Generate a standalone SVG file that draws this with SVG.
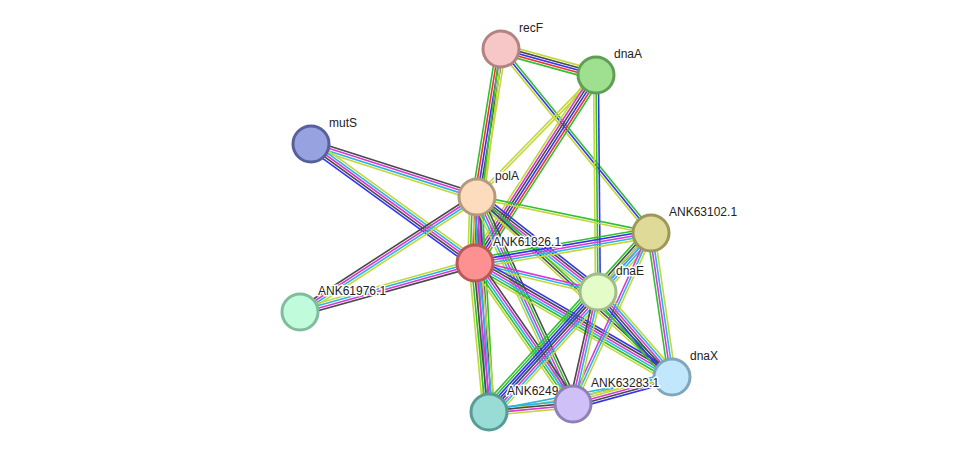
<svg xmlns="http://www.w3.org/2000/svg" width="976" height="458" viewBox="0 0 976 458">
<style>
line{stroke-width:1.6;fill:none}
.y{stroke:#c2d83a}.g{stroke:#30c030}.r{stroke:#f03434}.b{stroke:#3434f0}.k{stroke:#4a4a4a}.m{stroke:#d838d8}.c{stroke:#2cb4e0}
circle{stroke-width:3}
text{font-family:"Liberation Sans",Arial,sans-serif;font-size:12px;fill:#222;stroke:#fff;stroke-width:3;stroke-linejoin:round;paint-order:stroke}
</style>
<rect width="976" height="458" fill="#fff"/>
<g id="edges">
<g transform="translate(501,49) rotate(15.3)"><line x2="98.5" y1="-4.8" y2="-4.8" class="y"/><line x2="98.5" y1="-2.4" y2="-2.4" class="k"/><line x2="98.5" class="b"/><line x2="98.5" y1="2.4" y2="2.4" class="r"/><line x2="98.5" y1="4.8" y2="4.8" class="g"/></g>
<g transform="translate(501,49) rotate(99.2)"><line x2="150" y1="-4.8" y2="-4.8" class="y"/><line x2="150" y1="-2.4" y2="-2.4" class="k"/><line x2="150" class="b"/><line x2="150" y1="2.4" y2="2.4" class="r"/><line x2="150" y1="4.8" y2="4.8" class="g"/></g>
<g transform="translate(501,49) rotate(96.9)"><line x2="215.6" y1="-1.2" y2="-1.2" class="y"/><line x2="215.6" y1="1.2" y2="1.2" class="g"/></g>
<g transform="translate(501,49) rotate(50.8)"><line x2="237.4" y1="-2.4" y2="-2.4" class="g"/><line x2="237.4" class="b"/><line x2="237.4" y1="2.4" y2="2.4" class="y"/></g>
<g transform="translate(596,75) rotate(134.3)"><line x2="170.4" y1="-1.2" y2="-1.2" class="y"/><line x2="170.4" y1="1.2" y2="1.2" class="y"/></g>
<g transform="translate(596,75) rotate(122.8)"><line x2="223.6" y1="-6" y2="-6" class="g"/><line x2="223.6" y1="-3.6" y2="-3.6" class="r"/><line x2="223.6" y1="-1.2" y2="-1.2" class="b"/><line x2="223.6" y1="1.2" y2="1.2" class="k"/><line x2="223.6" y1="3.6" y2="3.6" class="m"/><line x2="223.6" y1="6" y2="6" class="y"/></g>
<g transform="translate(596,75) rotate(89.5)"><line x2="217" y1="-2.4" y2="-2.4" class="b"/><line x2="217" class="g"/><line x2="217" y1="2.4" y2="2.4" class="y"/></g>
<g transform="translate(311,144) rotate(17.7)"><line x2="174.3" y1="-3.6" y2="-3.6" class="k"/><line x2="174.3" y1="-1.2" y2="-1.2" class="m"/><line x2="174.3" y1="1.2" y2="1.2" class="c"/><line x2="174.3" y1="3.6" y2="3.6" class="y"/></g>
<g transform="translate(311,144) rotate(36)"><line x2="202.6" y1="-4.8" y2="-4.8" class="y"/><line x2="202.6" y1="-2.4" y2="-2.4" class="c"/><line x2="202.6" class="m"/><line x2="202.6" y1="2.4" y2="2.4" class="k"/><line x2="202.6" y1="4.8" y2="4.8" class="b"/></g>
<g transform="translate(300,312) rotate(-33)"><line x2="211.1" y1="-3.6" y2="-3.6" class="k"/><line x2="211.1" y1="-1.2" y2="-1.2" class="m"/><line x2="211.1" y1="1.2" y2="1.2" class="c"/><line x2="211.1" y1="3.6" y2="3.6" class="y"/></g>
<g transform="translate(300,312) rotate(-15.6)"><line x2="181.7" y1="-3.6" y2="-3.6" class="y"/><line x2="181.7" y1="-1.2" y2="-1.2" class="c"/><line x2="181.7" y1="1.2" y2="1.2" class="m"/><line x2="181.7" y1="3.6" y2="3.6" class="k"/></g>
<g transform="translate(477,197) rotate(91.7)"><line x2="66" y1="-7.2" y2="-7.2" class="c"/><line x2="66" y1="-4.8" y2="-4.8" class="m"/><line x2="66" y1="-2.4" y2="-2.4" class="k"/><line x2="66" class="b"/><line x2="66" y1="2.4" y2="2.4" class="r"/><line x2="66" y1="4.8" y2="4.8" class="g"/><line x2="66" y1="7.2" y2="7.2" class="y"/></g>
<g transform="translate(477,197) rotate(11.7)"><line x2="177.7" y1="-1.2" y2="-1.2" class="g"/><line x2="177.7" y1="1.2" y2="1.2" class="y"/></g>
<g transform="translate(477,197) rotate(38.1)"><line x2="153.8" y1="-4.8" y2="-4.8" class="b"/><line x2="153.8" y1="-2.4" y2="-2.4" class="k"/><line x2="153.8" class="m"/><line x2="153.8" y1="2.4" y2="2.4" class="c"/><line x2="153.8" y1="4.8" y2="4.8" class="y"/></g>
<g transform="translate(477,197) rotate(42.7)"><line x2="265.4" y1="-2.4" y2="-2.4" class="g"/><line x2="265.4" class="k"/><line x2="265.4" y1="2.4" y2="2.4" class="y"/></g>
<g transform="translate(477,197) rotate(86.8)"><line x2="215.3" y1="-4.8" y2="-4.8" class="g"/><line x2="215.3" y1="-2.4" y2="-2.4" class="k"/><line x2="215.3" class="m"/><line x2="215.3" y1="2.4" y2="2.4" class="c"/><line x2="215.3" y1="4.8" y2="4.8" class="y"/></g>
<g transform="translate(477,197) rotate(65.1)"><line x2="228.2" y1="-4.8" y2="-4.8" class="k"/><line x2="228.2" y1="-2.4" y2="-2.4" class="g"/><line x2="228.2" class="m"/><line x2="228.2" y1="2.4" y2="2.4" class="c"/><line x2="228.2" y1="4.8" y2="4.8" class="y"/></g>
<g transform="translate(475,263) rotate(-9.7)"><line x2="178.5" y1="-4.8" y2="-4.8" class="g"/><line x2="178.5" y1="-2.4" y2="-2.4" class="b"/><line x2="178.5" class="m"/><line x2="178.5" y1="2.4" y2="2.4" class="c"/><line x2="178.5" y1="4.8" y2="4.8" class="y"/></g>
<g transform="translate(475,263) rotate(13.3)"><line x2="126.4" y1="-2.4" y2="-2.4" class="m"/><line x2="126.4" class="c"/><line x2="126.4" y1="2.4" y2="2.4" class="y"/></g>
<g transform="translate(475,263) rotate(30.1)"><line x2="227.6" y1="-6" y2="-6" class="b"/><line x2="227.6" y1="-3.6" y2="-3.6" class="k"/><line x2="227.6" y1="-1.2" y2="-1.2" class="m"/><line x2="227.6" y1="1.2" y2="1.2" class="c"/><line x2="227.6" y1="3.6" y2="3.6" class="g"/><line x2="227.6" y1="6" y2="6" class="y"/></g>
<g transform="translate(475,263) rotate(84.6)"><line x2="149.7" y1="-6" y2="-6" class="y"/><line x2="149.7" y1="-3.6" y2="-3.6" class="c"/><line x2="149.7" y1="-1.2" y2="-1.2" class="m"/><line x2="149.7" y1="1.2" y2="1.2" class="k"/><line x2="149.7" y1="3.6" y2="3.6" class="g"/><line x2="149.7" y1="6" y2="6" class="y"/></g>
<g transform="translate(475,263) rotate(55.2)"><line x2="171.7" y1="-4.8" y2="-4.8" class="k"/><line x2="171.7" y1="-2.4" y2="-2.4" class="m"/><line x2="171.7" class="c"/><line x2="171.7" y1="2.4" y2="2.4" class="g"/><line x2="171.7" y1="4.8" y2="4.8" class="y"/></g>
<g transform="translate(651,233) rotate(131.9)"><line x2="79.3" y1="-6" y2="-6" class="y"/><line x2="79.3" y1="-3.6" y2="-3.6" class="c"/><line x2="79.3" y1="-1.2" y2="-1.2" class="m"/><line x2="79.3" y1="1.2" y2="1.2" class="b"/><line x2="79.3" y1="3.6" y2="3.6" class="k"/><line x2="79.3" y1="6" y2="6" class="g"/></g>
<g transform="translate(651,233) rotate(81.7)"><line x2="145.5" y1="-3.6" y2="-3.6" class="y"/><line x2="145.5" y1="-1.2" y2="-1.2" class="c"/><line x2="145.5" y1="1.2" y2="1.2" class="m"/><line x2="145.5" y1="3.6" y2="3.6" class="g"/></g>
<g transform="translate(651,233) rotate(114.5)"><line x2="187.9" y1="-2.4" y2="-2.4" class="y"/><line x2="187.9" class="c"/><line x2="187.9" y1="2.4" y2="2.4" class="m"/></g>
<g transform="translate(651,233) rotate(132.15)"><line x2="241.4" y1="-1.2" y2="-1.2" class="c"/><line x2="241.4" y1="1.2" y2="1.2" class="y"/></g>
<g transform="translate(598,292) rotate(49)"><line x2="112.7" y1="-6" y2="-6" class="y"/><line x2="112.7" y1="-3.6" y2="-3.6" class="c"/><line x2="112.7" y1="-1.2" y2="-1.2" class="m"/><line x2="112.7" y1="1.2" y2="1.2" class="k"/><line x2="112.7" y1="3.6" y2="3.6" class="b"/><line x2="112.7" y1="6" y2="6" class="g"/></g>
<g transform="translate(598,292) rotate(132.25)"><line x2="162.1" y1="-8.4" y2="-8.4" class="y"/><line x2="162.1" y1="-6" y2="-6" class="c"/><line x2="162.1" y1="-3.6" y2="-3.6" class="m"/><line x2="162.1" y1="-1.2" y2="-1.2" class="k"/><line x2="162.1" y1="1.2" y2="1.2" class="b"/><line x2="162.1" y1="3.6" y2="3.6" class="b"/><line x2="162.1" y1="6" y2="6" class="g"/><line x2="162.1" y1="8.4" y2="8.4" class="g"/></g>
<g transform="translate(598,292) rotate(102.6)"><line x2="114.8" y1="-3.6" y2="-3.6" class="y"/><line x2="114.8" y1="-1.2" y2="-1.2" class="c"/><line x2="114.8" y1="1.2" y2="1.2" class="m"/><line x2="114.8" y1="3.6" y2="3.6" class="k"/></g>
<g transform="translate(573,404) rotate(-15.3)"><line x2="102.6" y1="-4.8" y2="-4.8" class="c"/><line x2="102.6" y1="-2.4" y2="-2.4" class="y"/><line x2="102.6" class="m"/><line x2="102.6" y1="2.4" y2="2.4" class="k"/><line x2="102.6" y1="4.8" y2="4.8" class="b"/></g>
<g transform="translate(489,412) rotate(-10.8)"><line x2="186.3" y1="-1.2" y2="-1.2" class="c"/><line x2="186.3" y1="1.2" y2="1.2" class="y"/></g>
<g transform="translate(489,412) rotate(-5.4)"><line x2="84.4" y1="-3.6" y2="-3.6" class="c"/><line x2="84.4" y1="-1.2" y2="-1.2" class="k"/><line x2="84.4" y1="1.2" y2="1.2" class="m"/><line x2="84.4" y1="3.6" y2="3.6" class="y"/></g>
</g>
<g id="recF"><circle cx="501" cy="49" r="18" fill="#f7c6c6" stroke="#b38383"/><text x="519" y="32">recF</text></g>
<g id="dnaA"><circle cx="596" cy="75" r="18" fill="#9fe090" stroke="#5f9f53"/><text x="614" y="58">dnaA</text></g>
<g id="mutS"><circle cx="311" cy="144" r="18" fill="#97a3e0" stroke="#57609d"/><text x="329" y="127">mutS</text></g>
<g id="polA"><circle cx="477" cy="197" r="18" fill="#fddcbd" stroke="#b39a7e"/><text x="495" y="180">polA</text></g>
<g id="ANK63102.1"><circle cx="651" cy="233" r="18" fill="#e0da98" stroke="#9d975a"/><text x="669" y="216">ANK63102.1</text></g>
<g id="ANK61826.1"><circle cx="475" cy="263" r="18" fill="#fd9090" stroke="#b85858"/><text x="493" y="246">ANK61826.1</text></g>
<g id="dnaE"><circle cx="598" cy="292" r="18" fill="#e3fcc8" stroke="#a3bd88"/><text x="616" y="275">dnaE</text></g>
<g id="ANK61976.1"><circle cx="300" cy="312" r="18" fill="#c0fcdb" stroke="#80bd9c"/><text x="318" y="295">ANK61976.1</text></g>
<g id="dnaX"><circle cx="672" cy="377" r="18" fill="#c0e7fc" stroke="#7fa6bd"/><text x="690" y="360">dnaX</text></g>
<g id="ANK6249"><circle cx="489" cy="412" r="18" fill="#98dcd5" stroke="#589c95"/><text x="507" y="395">ANK6249</text></g>
<g id="ANK63283.1"><circle cx="573" cy="404" r="18" fill="#d0c0f8" stroke="#9080b8"/><text x="591" y="387">ANK63283.1</text></g>
</svg>
